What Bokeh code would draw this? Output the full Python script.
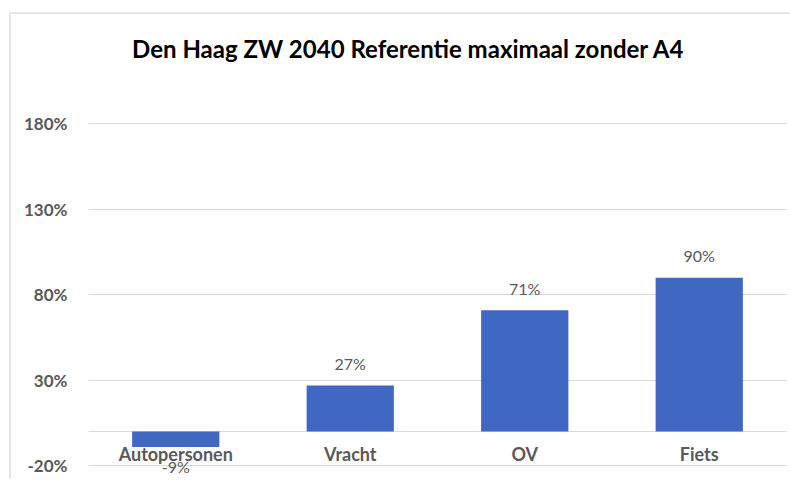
from bokeh.plotting import figure
from bokeh.models import ColumnDataSource, FixedTicker, PrintfTickFormatter, Label, Range1d, FactorRange
from bokeh.core.properties import value
from bokeh.embed import file_html
from bokeh.resources import INLINE

categories = ["Autopersonen", "Vracht", "OV", "Fiets"]
values = [-9, 27, 71, 90]
labels = ["-9%", "27%", "71%", "90%"]
y_ticks = [-20, 30, 80, 130, 180]
title_text = "Den Haag ZW 2040 Referentie maximaal zonder A4"

FONT = "Lato"
GRAY = "#595959"

src = ColumnDataSource(dict(
    cat=categories,
    val=values,
    lab=labels,
    off=[20 if v < 0 else -22 for v in values],
    base=[y_ticks[0]] * len(categories),
))

p = figure(
    x_range=FactorRange(*categories, range_padding=0),
    y_range=Range1d(-29.2, 243.9),
    width=781, height=467,
    margin=(12, 0, 0, 9),
    output_backend="svg", toolbar_location=None,
    min_border_left=77, min_border_right=6, min_border_top=0, min_border_bottom=0,
)
p.styles = {"border-top": "2px solid #e6e6e6", "border-left": "2px solid #e6e6e6"}

p.add_layout(Label(x=320, y=433, x_units="screen", y_units="screen", text=title_text,
                   text_font=FONT, text_font_size="24px", text_font_style="bold",
                   text_color="#000000", text_align="center", text_baseline="middle"))

p.vbar(x="cat", top="val", bottom=0, width=0.5, source=src,
       fill_color="#4068c2", line_color=None)

# category names (drawn first so the negative data label sits on top, as in the reference)
p.text(x="cat", y="base", text="cat", source=src, y_offset=-12,
       text_align="center", text_baseline="middle",
       text_font=value(FONT), text_font_size="18px", text_font_style="bold",
       text_color=GRAY)

p.text(x="cat", y="val", text="lab", source=src, y_offset="off",
       text_align="center", text_baseline="middle",
       text_font=value(FONT), text_font_size="16px", text_color=GRAY)

p.xaxis.visible = False
p.xgrid.visible = False

p.yaxis.ticker = FixedTicker(ticks=y_ticks)
p.yaxis.formatter = PrintfTickFormatter(format="%d%%")
p.yaxis.axis_line_color = None
p.yaxis.major_tick_line_color = None
p.yaxis.minor_tick_line_color = None
p.yaxis.major_label_standoff = 15
p.yaxis.major_label_text_font = FONT
p.yaxis.major_label_text_font_size = "17px"
p.yaxis.major_label_text_font_style = "bold"
p.yaxis.major_label_text_color = GRAY

p.ygrid.ticker = FixedTicker(ticks=y_ticks + [0])
p.ygrid.grid_line_color = "#d9d9d9"
p.ygrid.grid_line_width = 1

p.outline_line_color = None
p.background_fill_color = "white"
p.border_fill_color = "white"

open("out.html", "w").write(file_html(p, INLINE))
